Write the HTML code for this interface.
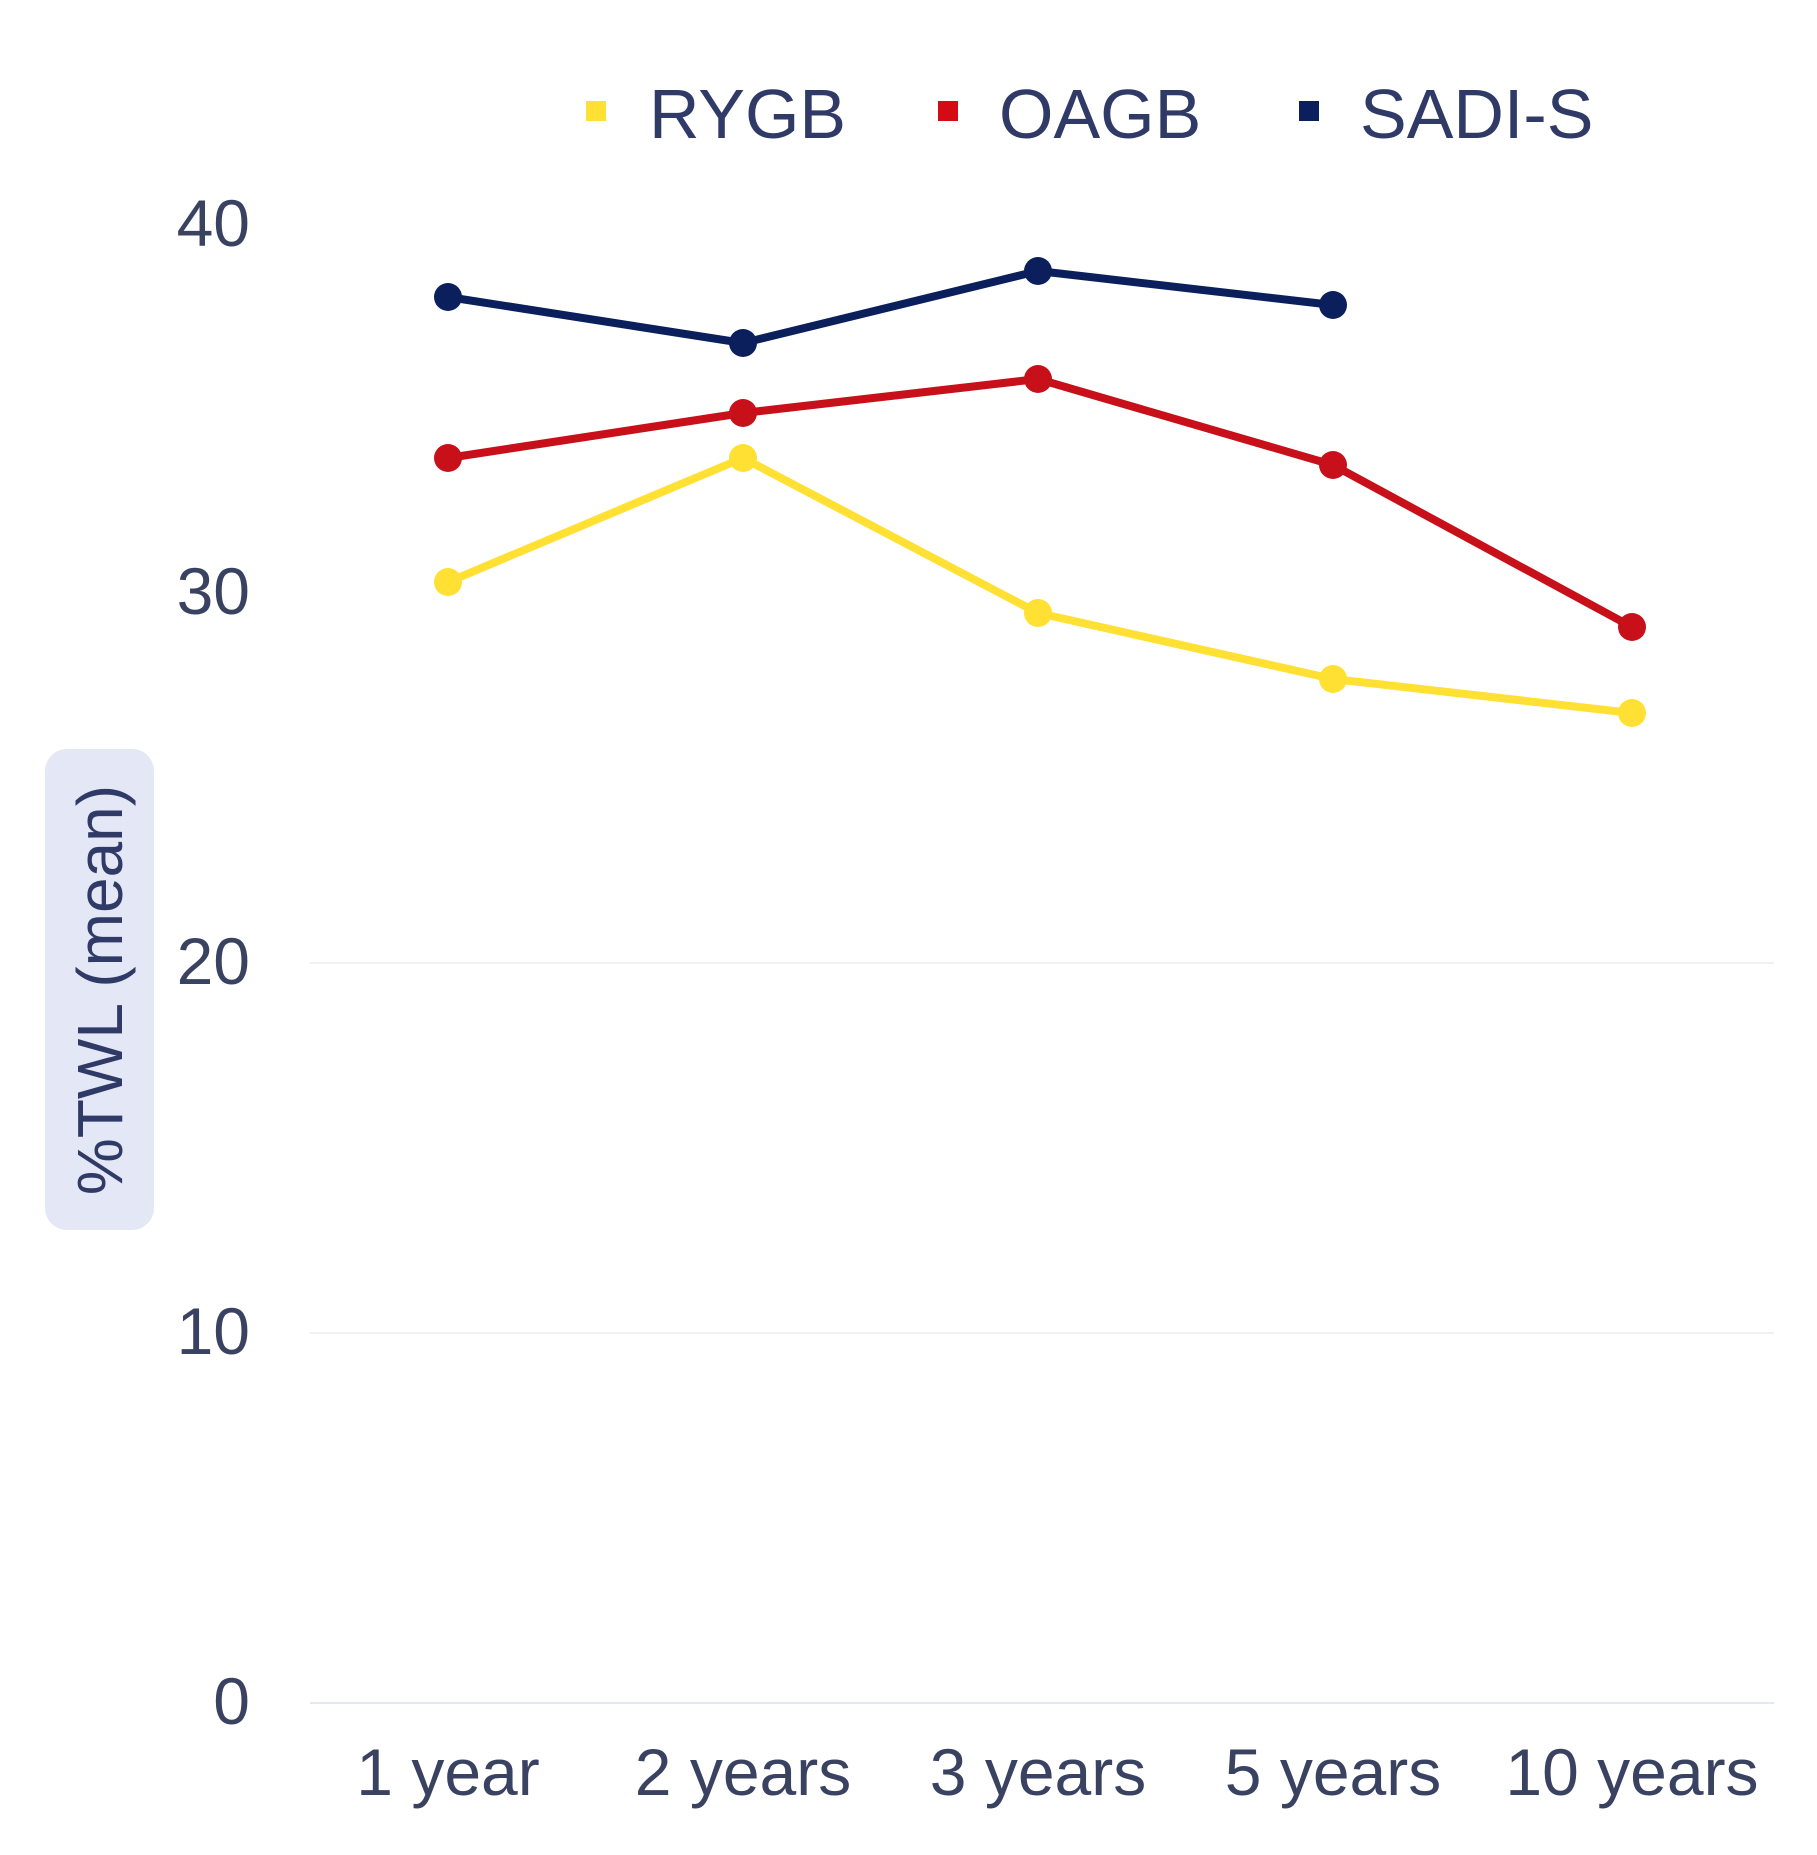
<!DOCTYPE html>
<html><head><meta charset="utf-8"><style>html,body{margin:0;padding:0;background:#fff}svg{display:block}</style></head>
<body>
<svg width="1817" height="1855" viewBox="0 0 1817 1855" xmlns="http://www.w3.org/2000/svg" font-family="Liberation Sans, sans-serif">
<g stroke="#f0f1f5" stroke-width="2">
<line x1="310" y1="963" x2="1774" y2="963"/>
<line x1="310" y1="1333" x2="1774" y2="1333"/>
</g>
<line x1="310" y1="1703" x2="1774" y2="1703" stroke="#e6e8f0" stroke-width="2"/>
<g fill="#3a4262" font-size="66" text-anchor="end">
<text x="250" y="246">40</text>
<text x="250" y="614">30</text>
<text x="250" y="984">20</text>
<text x="250" y="1354">10</text>
<text x="250" y="1724">0</text>
</g>
<g fill="#3a4262" font-size="66" text-anchor="middle">
<text x="448" y="1795">1 year</text>
<text x="743" y="1795">2 years</text>
<text x="1038" y="1795">3 years</text>
<text x="1333" y="1795">5 years</text>
<text x="1632" y="1795">10 years</text>
</g>
<rect x="45" y="749" width="109" height="481" rx="22" fill="#e4e7f6"/>
<text transform="translate(122,990) rotate(-90)" fill="#2f3a66" font-size="64" text-anchor="middle">%TWL (mean)</text>
<g font-size="70" fill="#2f3a66">
<rect x="586" y="101" width="20" height="20" fill="#ffe033"/>
<text x="649" y="138">RYGB</text>
<rect x="938" y="101" width="20" height="20" fill="#d40a14"/>
<text x="999" y="138">OAGB</text>
<rect x="1299" y="101" width="20" height="20" fill="#0b1f5c"/>
<text x="1360" y="138">SADI-S</text>
</g>
<g fill="none" stroke-width="8" stroke-linejoin="round">
<polyline stroke="#ffe033" points="448,582 743,458 1038,613 1333,679 1632,713"/>
<polyline stroke="#c8101a" points="448,458 743,413 1038,379 1333,465 1632,627"/>
<polyline stroke="#0b1f5c" points="448,297 743,343 1038,271 1333,305"/>
</g>
<g fill="#ffe033"><circle cx="448" cy="582" r="14"/><circle cx="743" cy="458" r="14"/><circle cx="1038" cy="613" r="14"/><circle cx="1333" cy="679" r="14"/><circle cx="1632" cy="713" r="14"/></g>
<g fill="#c8101a"><circle cx="448" cy="458" r="14"/><circle cx="743" cy="413" r="14"/><circle cx="1038" cy="379" r="14"/><circle cx="1333" cy="465" r="14"/><circle cx="1632" cy="627" r="14"/></g>
<g fill="#0b1f5c"><circle cx="448" cy="297" r="14"/><circle cx="743" cy="343" r="14"/><circle cx="1038" cy="271" r="14"/><circle cx="1333" cy="305" r="14"/></g>
</svg>
</body></html>
